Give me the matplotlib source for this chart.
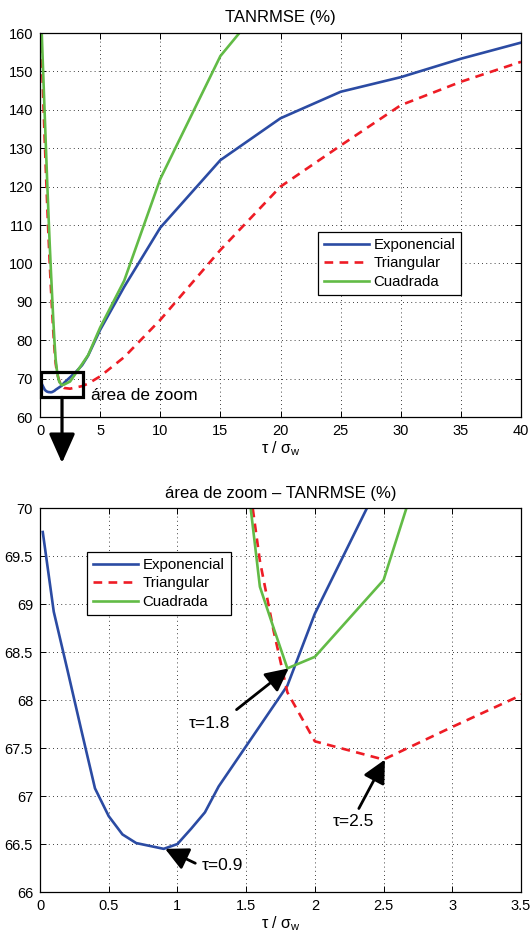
import matplotlib
matplotlib.use("Agg")
import matplotlib.pyplot as plt
from matplotlib.patches import Rectangle
from matplotlib.ticker import FuncFormatter, MultipleLocator

plt.rcParams['font.family'] = ['Liberation Sans', 'DejaVu Sans']
plt.rcParams['mathtext.fontset'] = 'custom'
plt.rcParams['mathtext.rm'] = 'Liberation Sans'
plt.rcParams['mathtext.it'] = 'Liberation Sans:italic'

# tau / sigma_w sample points
tau = [0.02, 0.1, 0.2, 0.3, 0.4, 0.5, 0.6, 0.7, 0.8, 0.9, 1.0, 1.1, 1.2, 1.3,
       1.4, 1.5, 1.6, 1.7, 1.8, 2.0, 2.5, 3.0, 3.5, 4, 5, 7, 10, 15, 20, 25,
       30, 35, 40]

exponencial = [69.75, 68.92, 68.31, 67.69, 67.08, 66.79, 66.60, 66.51, 66.48,
               66.45, 66.50, 66.66, 66.83, 67.10, 67.31, 67.52, 67.73, 67.94,
               68.15, 68.90, 70.35, 71.80, 73.50, 76.0, 82.7, 93.9, 109.3,
               126.9, 137.8, 144.7, 148.5, 153.3, 157.5]

triangular = [175.0, 158.0, 149.0, 140.0, 131.5, 123.0, 115.0, 107.5, 100.5,
              94.0, 88.0, 82.5, 77.8, 74.0, 71.8, 70.5, 69.45, 68.72, 68.08,
              67.57, 67.38, 67.72, 68.05, 68.7, 70.6, 75.6, 85.3, 103.5,
              120.0, 130.7, 141.2, 147.3, 152.5]

tau_cuad = tau[:29]
cuadrada = [176.0, 164.0, 155.0, 146.5, 138.0, 129.5, 121.0, 113.0, 105.5,
            98.5, 92.0, 85.5, 79.8, 75.0, 72.3, 70.4, 69.18, 68.75, 68.33,
            68.45, 69.25, 71.5, 73.8, 76.1, 83.3, 95.5, 122.0, 154.0, 173.0]

labels = ['Exponencial', 'Triangular', 'Cuadrada']
colors = ['#2b4ba3', '#ee1c25', '#62bb46']

# annotated minima: (tau, value, label)
minima = [(0.9, 66.45, 'τ=0.9'), (1.8, 68.33, 'τ=1.8'), (2.5, 67.38, 'τ=2.5')]

LW = 1.9
fig = plt.figure(figsize=(5.30, 9.38), dpi=100)
ax1 = fig.add_axes([0.0755, 0.5554, 0.9075, 0.4094])
ax2 = fig.add_axes([0.0755, 0.0490, 0.9075, 0.4094])

fmt = FuncFormatter(lambda v, p: '%g' % v)


def draw_series(ax):
    ax.plot(tau, exponencial, color=colors[0], lw=LW, label=labels[0])
    ax.plot(tau, triangular, color=colors[1], lw=LW, label=labels[1],
            dashes=(3.3, 2.4))
    ax.plot(tau_cuad, cuadrada, color=colors[2], lw=LW, label=labels[2])


def style(ax):
    ax.grid(True, linestyle=(0, (1, 4)), color='black', lw=0.6)
    ax.tick_params(direction='in', top=True, right=True, labelsize=10.5,
                   length=4, width=0.7, pad=5)
    for s in ax.spines.values():
        s.set_linewidth(0.9)
    ax.xaxis.set_major_formatter(fmt)
    ax.yaxis.set_major_formatter(fmt)
    ax.set_xlabel('τ / σ$_\\mathrm{w}$', fontsize=11.5, labelpad=1)


def add_legend(ax, anchor):
    leg = ax.legend(loc='upper left', bbox_to_anchor=anchor, fontsize=10.8,
                    handlelength=3.0, fancybox=False, edgecolor='black',
                    framealpha=1, borderpad=0.4, labelspacing=0.3,
                    handletextpad=0.3, borderaxespad=0)
    leg.get_frame().set_linewidth(0.9)


# full range panel
draw_series(ax1)
ax1.set_xlim(0, 40)
ax1.set_ylim(60, 160)
ax1.xaxis.set_major_locator(MultipleLocator(5))
ax1.yaxis.set_major_locator(MultipleLocator(10))
style(ax1)
ax1.set_title('TANRMSE (%)', fontsize=12, pad=8)
add_legend(ax1, (0.578, 0.482))

ax1.add_patch(Rectangle((0.05, 65.1), 3.55, 6.5, fill=False, lw=2.3,
                        edgecolor='black', clip_on=False, zorder=5))
ax1.text(4.2, 65.6, 'área de zoom', fontsize=12.5, va='center', ha='left')
ax1.annotate('', xy=(62 / 530, 1 - 463 / 938), xycoords='figure fraction',
             xytext=(1.83, 65.1), textcoords='data',
             arrowprops=dict(arrowstyle='-|>,head_length=0.9,head_width=0.4',
                             mutation_scale=20, lw=2.3, color='black',
                             shrinkA=0, shrinkB=0),
             annotation_clip=False)

# zoomed panel
draw_series(ax2)
ax2.set_xlim(0, 3.5)
ax2.set_ylim(66, 70)
ax2.xaxis.set_major_locator(MultipleLocator(0.5))
ax2.yaxis.set_major_locator(MultipleLocator(0.5))
style(ax2)
ax2.set_title('área de zoom – TANRMSE (%)', fontsize=12, pad=7)
add_legend(ax2, (0.098, 0.886))

text_pos = {'τ=0.9': (1.18, 66.28), 'τ=1.8': (1.08, 67.76),
            'τ=2.5': (2.13, 66.73)}
tail_pos = {'τ=0.9': (1.13, 66.30), 'τ=1.8': (1.43, 67.90),
            'τ=2.5': (2.32, 66.87)}
for x, y, lab in minima:
    tx, ty = text_pos[lab]
    ax2.text(tx, ty, lab, fontsize=12.5, ha='left', va='center')
    ax2.annotate('', xy=(x + 0.01, y), xytext=tail_pos[lab],
                 arrowprops=dict(arrowstyle='-|>,head_length=0.7,head_width=0.35',
                                 mutation_scale=20, lw=2.0, color='black',
                                 shrinkA=0, shrinkB=0))

fig.savefig('out.png', dpi=100)
